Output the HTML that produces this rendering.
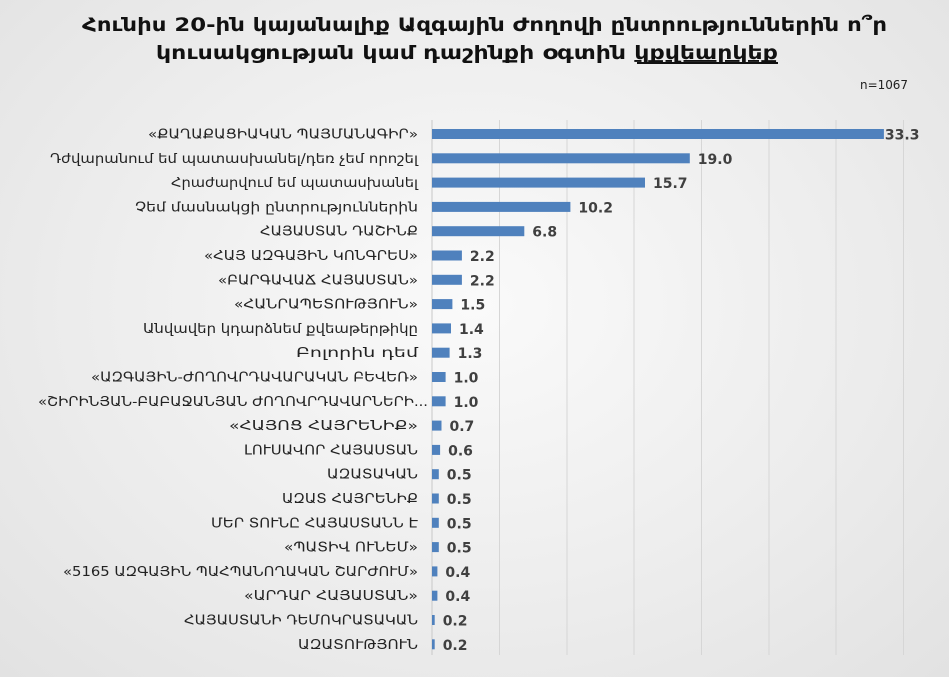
<!DOCTYPE html>
<html><head><meta charset="utf-8"><style>
html,body{margin:0;padding:0;}
body{width:949px;height:677px;overflow:hidden;background:radial-gradient(ellipse at 50% 45%,#fafafa 0%,#ececec 60%,#e2e2e2 100%);}
svg{display:block;font-family:"DejaVu Sans","Liberation Sans",sans-serif;}
</style></head><body>
<svg width="949" height="677" viewBox="0 0 949 677">
<g font-weight="bold" font-size="19" fill="#111" text-anchor="start">
<text x="82" y="31" textLength="805" lengthAdjust="spacingAndGlyphs">Հունիս 20-ին կայանալիք Ազգային Ժողովի ընտրություններին ո՞ր</text>
<text x="156" y="59" textLength="622" lengthAdjust="spacingAndGlyphs">կուսակցության կամ դաշինքի օգտին <tspan text-decoration="underline">կքվեարկեք</tspan></text>
</g>
<line x1="637" y1="63" x2="778" y2="63" stroke="#111" stroke-width="2"/>
<text x="860" y="89" font-size="12" fill="#222" textLength="48" lengthAdjust="spacingAndGlyphs">n=1067</text>
<g stroke="#d6d6d6" stroke-width="1">
<line x1="499.5" y1="120" x2="499.5" y2="655"/><line x1="567" y1="120" x2="567" y2="655"/>
<line x1="634" y1="120" x2="634" y2="655"/><line x1="701.5" y1="120" x2="701.5" y2="655"/>
<line x1="769" y1="120" x2="769" y2="655"/><line x1="836" y1="120" x2="836" y2="655"/>
<line x1="903.5" y1="120" x2="903.5" y2="655"/>
</g>
<line x1="432" y1="120" x2="432" y2="655" stroke="#c8c8c8"/>
<g id="rows"></g>
</svg>
<script>
var d=[
["«ՔԱՂԱՔԱՑԻԱԿԱՆ ՊԱՅՄԱՆԱԳԻՐ»",33.3,148],
["Դժվարանում եմ պատասխանել/դեռ չեմ որոշել",19.0,50],
["Հրաժարվում եմ պատասխանել",15.7,171],
["Չեմ մասնակցի ընտրություններին",10.2,135],
["ՀԱՅԱՍՏԱՆ ԴԱՇԻՆՔ",6.8,260],
["«ՀԱՅ ԱԶԳԱՅԻՆ ԿՈՆԳՐԵՍ»",2.2,204],
["«ԲԱՐԳԱՎԱՃ ՀԱՅԱՍՏԱՆ»",2.2,218],
["«ՀԱՆՐԱՊԵՏՈՒԹՅՈՒՆ»",1.5,234],
["Անվավեր կդարձնեմ քվեաթերթիկը",1.4,143],
["Բոլորին դեմ",1.3,296],
["«ԱԶԳԱՅԻՆ-ԺՈՂՈՎՐԴԱՎԱՐԱԿԱՆ ԲԵՎԵՌ»",1.0,91],
["«ՇԻՐԻՆՅԱՆ-ԲԱԲԱՋԱՆՅԱՆ ԺՈՂՈՎՐԴԱՎԱՐՆԵՐԻ...",1.0,38,428],
["«ՀԱՅՈՑ ՀԱՅՐԵՆԻՔ»",0.7,229],
["ԼՈՒՍԱՎՈՐ ՀԱՅԱՍՏԱՆ",0.6,244],
["ԱԶԱՏԱԿԱՆ",0.5,327],
["ԱԶԱՏ ՀԱՅՐԵՆԻՔ",0.5,282],
["ՄԵՐ ՏՈՒՆԸ ՀԱՅԱՍՏԱՆՆ Է",0.5,211],
["«ՊԱՏԻՎ ՈՒՆԵՄ»",0.5,284],
["«5165 ԱԶԳԱՅԻՆ ՊԱՀՊԱՆՈՂԱԿԱՆ ՇԱՐԺՈՒՄ»",0.4,63],
["«ԱՐԴԱՐ ՀԱՅԱՍՏԱՆ»",0.4,244],
["ՀԱՅԱՍՏԱՆԻ ԴԵՄՈԿՐԱՏԱԿԱՆ",0.2,184],
["ԱԶԱՏՈՒԹՅՈՒՆ",0.2,298]];
var g=document.getElementById('rows'),h='';
d.forEach(function(r,i){var y=134+i*24.3,w=r[1]*13.57,x2=r[3]||418;
h+='<rect x="432" y="'+(y-5)+'" width="'+w.toFixed(1)+'" height="10" fill="#4f81bd"/>';
h+='<text x="'+r[2]+'" y="'+(y+4.5)+'" font-size="13" fill="#222" textLength="'+(x2-r[2])+'" lengthAdjust="spacingAndGlyphs">'+r[0]+'</text>';
var vx=432+w+(i==0?1:8);
h+='<text x="'+vx.toFixed(1)+'" y="'+(y+5.5)+'" font-size="14" font-weight="bold" fill="#404040">'+r[1].toFixed(1)+'</text>';});
g.innerHTML=h;
</script>
</body></html>
